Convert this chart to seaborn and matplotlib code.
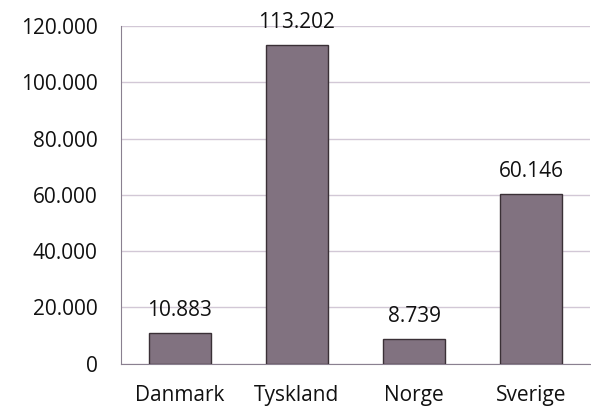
import matplotlib
matplotlib.use("Agg")
import matplotlib.pyplot as plt
import matplotlib.ticker as ticker
import pandas as pd
import seaborn as sns

countries = ["Danmark", "Tyskland", "Norge", "Sverige"]
values = [10883, 113202, 8739, 60146]
yticks = [0, 20000, 40000, 60000, 80000, 100000, 120000]

BAR_COLOR = "#817280"
GRID_COLOR = "#d2c8d6"
AXIS_COLOR = "#8a8090"
FS = 15


def dk(v):
    return f"{v:,.0f}".replace(",", ".")


sns.set_style("white")
plt.rcParams["font.family"] = ["Open Sans", "DejaVu Sans"]

df = pd.DataFrame({"Land": countries, "Antal": values})

fig = plt.figure(figsize=(5.91, 4.12), dpi=100)
ax = fig.add_axes([0.205, 0.117, 0.793, 0.82])

sns.barplot(data=df, x="Land", y="Antal", color=BAR_COLOR, width=0.53,
            saturation=1, edgecolor="#3a3036", linewidth=1.0, ax=ax, zorder=3)

ax.set_ylim(0, 120000)
ax.set_yticks(yticks)
ax.yaxis.set_major_formatter(ticker.FuncFormatter(lambda y, pos: dk(y)))
ax.grid(axis="y", color=GRID_COLOR, linewidth=1.0, zorder=0)
ax.set_xlabel("")
ax.set_ylabel("")

for i, v in enumerate(values):
    ax.text(i, v + 4300, dk(v), ha="center", va="bottom", fontsize=FS, color="#111111", zorder=4)

for s in ["top", "right"]:
    ax.spines[s].set_visible(False)
ax.spines["left"].set_color(AXIS_COLOR)
ax.spines["bottom"].set_color(AXIS_COLOR)
ax.tick_params(axis="y", length=5, color=AXIS_COLOR, labelsize=FS, labelcolor="#111111", pad=12)
ax.tick_params(axis="x", length=0, labelsize=FS, labelcolor="#111111", pad=15)
ax.set_xticks([0.5, 1.5, 2.5], minor=True)
ax.tick_params(axis="x", which="minor", length=5, color=AXIS_COLOR, direction="out")
ax.set_xlim(-0.5, 3.5)

fig.savefig("out.png", dpi=100)
